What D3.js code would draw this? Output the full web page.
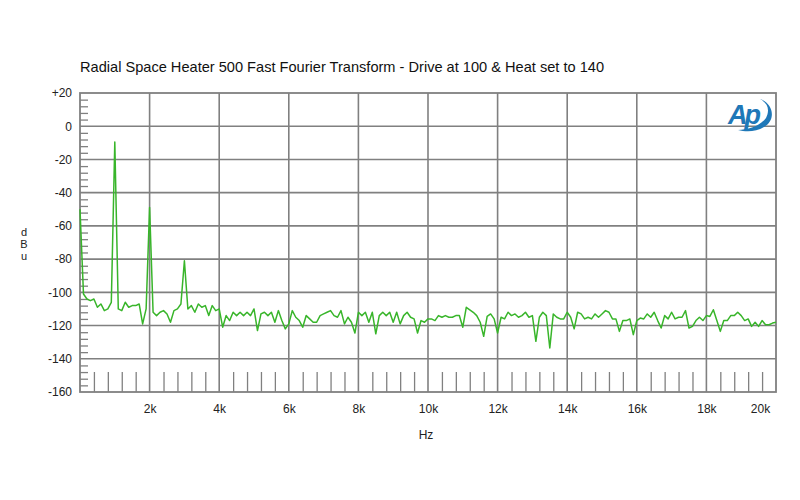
<!DOCTYPE html>
<html>
<head>
<meta charset="utf-8">
<script src="https://cdn.jsdelivr.net/npm/d3@7"></script>
<style>
  body { margin: 0; background: #fff; }
  text { font-family: Arial, "Liberation Sans", sans-serif; fill: #222; }
</style>
</head>
<body>
<div id="chart"></div>
<script>
// FFT trace, one reading every 100 Hz from 0 Hz to 20 kHz (dBu)
const binHz = 100
const levels = [
  -50, -101, -104, -105, -104, -109, -107, -111, -110, -106,
  -9.5, -110, -111, -106, -109, -108, -108, -107, -119, -110,
  -49, -112, -114, -112, -111, -113, -118, -111, -110, -107,
  -81, -110, -108, -112, -107, -109, -108, -114, -108, -111,
  -110, -121, -114, -117, -112, -114, -112, -114, -112, -114,
  -110, -123, -113, -112, -114, -112, -118, -111, -117, -122,
  -119, -111, -115, -117, -121, -114, -116, -118, -118, -114,
  -113, -112, -111, -114, -115, -111, -119, -115, -118, -124.5,
  -112, -114, -112, -118, -112, -125, -114, -112, -114, -112,
  -118, -112, -119, -114, -112, -115, -116, -124.5, -117, -118,
  -116, -116, -117, -114, -115, -114, -115, -115, -114, -114,
  -121, -109, -110.5, -112, -114, -118, -126.5, -114.5, -113, -116,
  -124.5, -115, -116, -112, -114, -113, -115, -114, -112, -115,
  -114, -129.5, -115, -112, -114, -133.5, -113, -115, -116, -116,
  -112, -115, -122, -112, -113, -116, -115, -116, -113, -115,
  -113, -111, -112, -116, -116, -123.5, -117, -117, -116, -125.5,
  -117, -115.5, -116, -113, -115, -112, -117, -121.5, -114, -116,
  -112, -116, -115, -115, -111, -121.5, -120.5, -117, -115, -117,
  -114, -114.5, -110.5, -117, -123.5, -117, -117, -114, -114, -112,
  -114, -117, -116, -120.5, -118, -120.5, -117, -119.5, -119.5, -118.5,
  -118
]

const yTicks = [20, 0, -20, -40, -60, -80, -100, -120, -140, -160]
const xTicks = [2000, 4000, 6000, 8000, 10000, 12000, 14000, 16000, 18000, 20000]
const title = "Radial Space Heater 500 Fast Fourier Transform - Drive at 100 & Heat set to 140"

const svgWidth = 800
const svgHeight = 500
const plot = { left: 80, right: 776, top: 93, bottom: 392 }
const gridColor = "#808080"

let svg = d3.select("#chart")
  .append("svg")
  .attr("width", svgWidth)
  .attr("height", svgHeight)

let x = d3.scaleLinear().domain([0, 20000]).range([plot.left, plot.right])
let y = d3.scaleLinear().domain([-160, 20]).range([plot.bottom, plot.top])

// title
svg.append("text")
  .attr("x", 80)
  .attr("y", 72)
  .style("font-size", "14.6px")
  .style("fill", "#111")
  .text(title)

// grid lines
let grid = svg.append("g")
grid.selectAll("line.h")
  .data(yTicks.slice(1, -1))
  .enter()
  .append("line")
  .attr("x1", plot.left).attr("x2", plot.right)
  .attr("y1", d => y(d)).attr("y2", d => y(d))
  .attr("stroke", gridColor).attr("stroke-width", 1.6)
grid.selectAll("line.v")
  .data(xTicks.slice(0, -1))
  .enter()
  .append("line")
  .attr("y1", plot.top).attr("y2", plot.bottom)
  .attr("x1", d => x(d)).attr("x2", d => x(d))
  .attr("stroke", gridColor).attr("stroke-width", 1.6)

// minor ticks: every 4 dB on the left, every 400 Hz at the bottom
let yMinor = d3.range(-160, 20, 4).filter(d => d % 20 !== 0)
let xMinor = d3.range(400, 20000, 400).filter(d => d % 2000 !== 0)

let leftMinor = svg.append("g")
  .attr("transform", `translate(${plot.left}, 0)`)
  .call(d3.axisLeft(y).tickValues(yMinor).tickSize(-8).tickFormat(""))
leftMinor.select(".domain").remove()
leftMinor.selectAll("line").attr("stroke", gridColor).attr("stroke-width", 1.3)

let bottomMinor = svg.append("g")
  .attr("transform", `translate(0, ${plot.bottom})`)
  .call(d3.axisBottom(x).tickValues(xMinor).tickSize(-20).tickFormat(""))
bottomMinor.select(".domain").remove()
bottomMinor.selectAll("line").attr("stroke", gridColor).attr("stroke-width", 1.3)

// frame
svg.append("rect")
  .attr("x", plot.left).attr("y", plot.top)
  .attr("width", plot.right - plot.left)
  .attr("height", plot.bottom - plot.top)
  .attr("fill", "none")
  .attr("stroke", gridColor)
  .attr("stroke-width", 1.8)

// tick labels
let yAxis = svg.append("g")
  .attr("transform", `translate(${plot.left}, 0)`)
  .call(d3.axisLeft(y).tickValues(yTicks).tickSize(0).tickPadding(8)
    .tickFormat(d => d > 0 ? "+" + d : d))
yAxis.select(".domain").remove()
yAxis.selectAll("text").style("font-size", "12px").style("font-family", "Arial, 'Liberation Sans', sans-serif").attr("fill", "#222")

let xAxis = svg.append("g")
  .attr("transform", `translate(0, ${plot.bottom})`)
  .call(d3.axisBottom(x).tickValues(xTicks).tickSize(0).tickPadding(12)
    .tickFormat(d => d / 1000 + "k"))
xAxis.select(".domain").remove()
xAxis.selectAll("text").style("font-size", "12px").style("font-family", "Arial, 'Liberation Sans', sans-serif").attr("fill", "#222")
// the 20k label sits inside the frame edge
xAxis.selectAll(".tick").filter(d => d === 20000).select("text").attr("dx", -16)

// axis titles
svg.append("text")
  .attr("x", 426).attr("y", 439)
  .attr("text-anchor", "middle")
  .style("font-size", "12px")
  .text("Hz")

svg.append("g").selectAll("text")
  .data(["d", "B", "u"])
  .enter()
  .append("text")
  .attr("x", 24)
  .attr("y", (d, i) => 236 + i * 12)
  .attr("text-anchor", "middle")
  .style("font-size", "11px")
  .text(d => d)

// trace
let line = d3.line()
  .x((d, i) => x(i * binHz))
  .y(d => y(d))

svg.append("path")
  .datum(levels)
  .attr("d", line)
  .attr("fill", "none")
  .attr("stroke", "#38b52a")
  .attr("stroke-width", 1.5)
  .attr("stroke-linejoin", "round")

// AP logo
let logo = svg.append("g").attr("transform", "translate(726, 100)")
logo.append("text")
  .attr("x", 2).attr("y", 24)
  .style("font-size", "27px")
  .style("font-style", "italic")
  .style("font-weight", "bold")
  .style("letter-spacing", "-3px")
  .style("fill", "#1f78b8")
  .text("Ap")
logo.append("path")
  .attr("d", "M34 -1 C48 4 50 20 38 27 C30 32 20 32 12 30 C22 30 34 26 40 18 C44 10 42 3 34 -1 Z")
  .attr("fill", "#1f78b8")
</script>
</body>
</html>
